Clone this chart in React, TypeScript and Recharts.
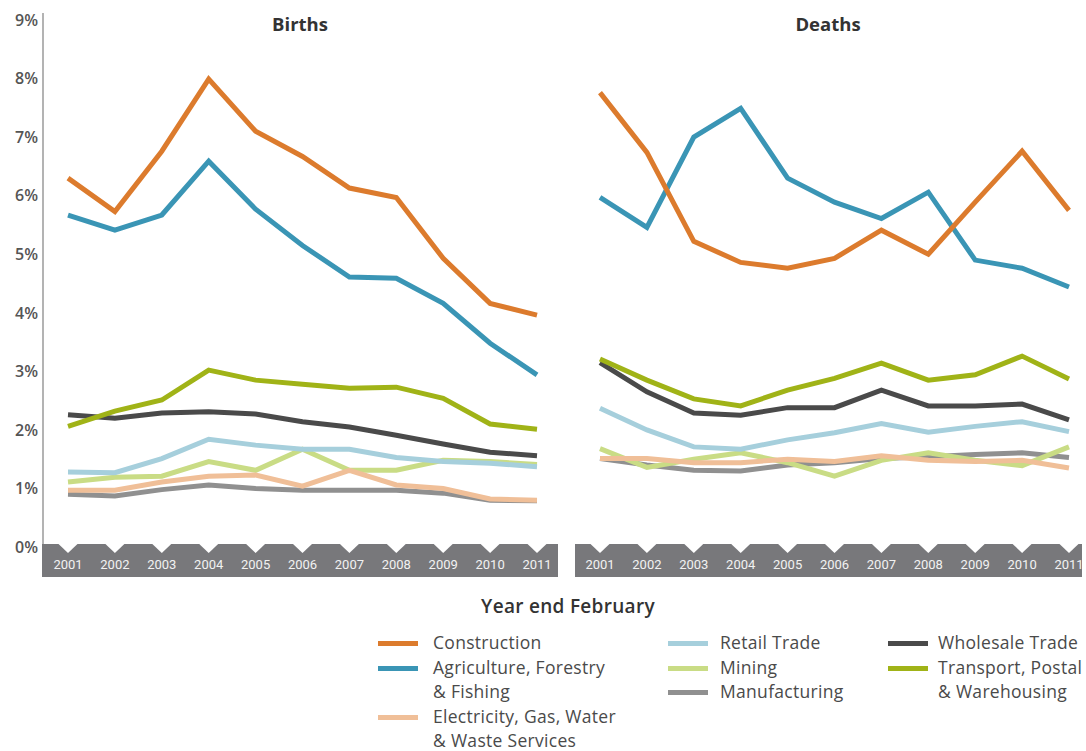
import React from 'react';
import { LineChart, Line, XAxis, YAxis } from 'recharts';

const years = ['2001', '2002', '2003', '2004', '2005', '2006', '2007', '2008', '2009', '2010', '2011'];
const yTicks = [0, 1, 2, 3, 4, 5, 6, 7, 8, 9];

const constructionBirths = [6.3, 5.73, 6.76, 7.99, 7.1, 6.67, 6.13, 5.97, 4.93, 4.16, 3.96];
const agricultureBirths = [5.67, 5.41, 5.67, 6.59, 5.77, 5.15, 4.61, 4.59, 4.16, 3.48, 2.94];
const electricityBirths = [0.97, 0.97, 1.11, 1.21, 1.23, 1.04, 1.31, 1.06, 1.0, 0.82, 0.8];
const retailBirths = [1.28, 1.27, 1.51, 1.84, 1.74, 1.67, 1.67, 1.53, 1.46, 1.43, 1.37];
const miningBirths = [1.11, 1.19, 1.21, 1.46, 1.31, 1.67, 1.31, 1.31, 1.48, 1.46, 1.41];
const manufacturingBirths = [0.9, 0.87, 0.98, 1.06, 1.0, 0.97, 0.97, 0.97, 0.92, 0.8, 0.79];
const wholesaleBirths = [2.26, 2.2, 2.29, 2.31, 2.27, 2.14, 2.05, 1.91, 1.76, 1.62, 1.56];
const transportBirths = [2.06, 2.32, 2.51, 3.02, 2.85, 2.78, 2.71, 2.73, 2.54, 2.1, 2.01];

const constructionDeaths = [7.76, 6.74, 5.22, 4.86, 4.76, 4.93, 5.41, 5.0, 5.89, 6.76, 5.75];
const agricultureDeaths = [5.97, 5.46, 7.0, 7.49, 6.3, 5.89, 5.61, 6.06, 4.9, 4.76, 4.44];
const electricityDeaths = [1.51, 1.51, 1.44, 1.44, 1.5, 1.46, 1.56, 1.48, 1.46, 1.48, 1.35];
const retailDeaths = [2.37, 2.0, 1.71, 1.67, 1.83, 1.95, 2.11, 1.96, 2.06, 2.14, 1.97];
const miningDeaths = [1.68, 1.36, 1.5, 1.61, 1.44, 1.21, 1.48, 1.61, 1.48, 1.39, 1.71];
const manufacturingDeaths = [1.51, 1.4, 1.31, 1.3, 1.4, 1.44, 1.51, 1.54, 1.58, 1.61, 1.53];
const wholesaleDeaths = [3.15, 2.65, 2.29, 2.25, 2.38, 2.38, 2.68, 2.41, 2.41, 2.44, 2.17];
const transportDeaths = [3.21, 2.85, 2.53, 2.41, 2.68, 2.88, 3.14, 2.85, 2.94, 3.26, 2.87];

type Series = { key: string; lines: string[]; color: string; births: number[]; deaths: number[] };

const construction: Series = { key: 'construction', lines: ['Construction'], color: '#dc7b2d', births: constructionBirths, deaths: constructionDeaths };
const agriculture: Series = { key: 'agriculture', lines: ['Agriculture, Forestry', '& Fishing'], color: '#3a95b5', births: agricultureBirths, deaths: agricultureDeaths };
const electricity: Series = { key: 'electricity', lines: ['Electricity, Gas, Water', '& Waste Services'], color: '#f0bf98', births: electricityBirths, deaths: electricityDeaths };
const retail: Series = { key: 'retail', lines: ['Retail Trade'], color: '#a6cfdc', births: retailBirths, deaths: retailDeaths };
const mining: Series = { key: 'mining', lines: ['Mining'], color: '#c9dc85', births: miningBirths, deaths: miningDeaths };
const manufacturing: Series = { key: 'manufacturing', lines: ['Manufacturing'], color: '#909090', births: manufacturingBirths, deaths: manufacturingDeaths };
const wholesale: Series = { key: 'wholesale', lines: ['Wholesale Trade'], color: '#4a4a4a', births: wholesaleBirths, deaths: wholesaleDeaths };
const transport: Series = { key: 'transport', lines: ['Transport, Postal', '& Warehousing'], color: '#a0b317', births: transportBirths, deaths: transportDeaths };

// draw order (later = on top)
const drawOrder: Series[] = [manufacturing, mining, retail, electricity, wholesale, transport, agriculture, construction];
const legendColumns: Series[][] = [
  [construction, agriculture, electricity],
  [retail, mining, manufacturing],
  [wholesale, transport],
];

const birthsData = years.map((year, i) => {
  const row: Record<string, number | string> = { year };
  drawOrder.forEach((s) => (row[s.key] = s.births[i]));
  return row;
});
const deathsData = years.map((year, i) => {
  const row: Record<string, number | string> = { year };
  drawOrder.forEach((s) => (row[s.key] = s.deaths[i]));
  return row;
});

const FONT = '"Open Sans", "DejaVu Sans", sans-serif';
const TOP = 13;
const PLOT_H = 534;
const AXIS_H = 34;
const DOMAIN: [number, number] = [0, 9.12];

const makeXTick = (padL: number, plotW: number) => (props: any) => {
  const { x, y, payload, index } = props;
  const top = y - 3;
  return (
    <g>
      {index === 0 && <rect x={x - padL - 1} y={top} width={plotW + 1} height={33} fill="#78787b" />}
      <polygon points={`${x - 10},${top - 0.5} ${x + 10},${top - 0.5} ${x},${top + 9}`} fill="#ffffff" />
      <text x={x} y={top + 25} textAnchor="middle" fill="#f2f2f2" fontSize={13} fontFamily="Roboto, sans-serif">
        {payload.value}
      </text>
    </g>
  );
};

const YTick = (props: any) => {
  const { x, y, payload } = props;
  return (
    <text x={x} y={y} dy="0.36em" textAnchor="end" fill="#555555" fontSize={16} fontWeight={600} fontFamily={FONT}>
      {`${payload.value}%`}
    </text>
  );
};

function Panel({ data, which, width, yAxis, padL, padR, marginRight }: any) {
  const plotW = width - (yAxis ? 43 : 0) - marginRight;
  return (
    <LineChart width={width} height={TOP + PLOT_H + AXIS_H} data={data} margin={{ top: TOP, right: marginRight, bottom: 0, left: 0 }}>
      <XAxis
        dataKey="year"
        interval={0}
        height={AXIS_H}
        padding={{ left: padL, right: padR }}
        axisLine={false}
        tickLine={false}
        tickSize={0}
        tickMargin={0}
        tick={makeXTick(padL, plotW)}
      />
      <YAxis
        hide={!yAxis}
        width={43}
        domain={DOMAIN}
        ticks={yTicks}
        allowDataOverflow
        axisLine={{ stroke: '#b3b3b3', strokeWidth: 2 }}
        tickLine={false}
        tickSize={0}
        tickMargin={5}
        tick={YTick}
      />
      {drawOrder.map((s) => (
        <Line
          key={s.key + which}
          dataKey={s.key}
          type="linear"
          stroke={s.color}
          strokeWidth={5}
          dot={false}
          activeDot={false}
          isAnimationActive={false}
        />
      ))}
    </LineChart>
  );
}

export default function App() {
  return (
    <div style={{ position: 'absolute', left: 0, top: 0, width: 1086, height: 751, background: '#fff', fontFamily: FONT, overflow: 'hidden' }}>
      <div style={{ position: 'absolute', left: 0, top: 0 }}>
        <Panel data={birthsData} which="b" width={560} yAxis padL={25} padR={21} marginRight={2} />
      </div>
      <div style={{ position: 'absolute', left: 575, top: 0 }}>
        <Panel data={deathsData} which="d" width={511} yAxis={false} padL={25} padR={13} marginRight={4} />
      </div>
      <div style={{ position: 'absolute', left: 200, width: 200, top: 11, textAlign: 'center', fontSize: 18.5, fontWeight: 700, color: '#333' }}>Births</div>
      <div style={{ position: 'absolute', left: 728, width: 200, top: 11, textAlign: 'center', fontSize: 18.5, fontWeight: 700, color: '#333' }}>Deaths</div>
      <div style={{ position: 'absolute', left: 418, width: 300, top: 593, textAlign: 'center', fontSize: 19, fontWeight: 600, letterSpacing: 0.3, color: '#333' }}>Year end February</div>
      {legendColumns.map((col, ci) => {
        const swLeft = [378, 668, 888][ci];
        const txLeft = [433, 720, 938][ci];
        return (
          <div key={ci} style={{ position: 'absolute', left: swLeft, top: 630 }}>
            {col.map((s) => (
              <div key={s.key} style={{ position: 'relative', height: s.lines.length * 24.5 }}>
                <div style={{ position: 'absolute', left: 0, top: 11, width: 40, height: 5, background: s.color }} />
                <div style={{ position: 'absolute', left: txLeft - swLeft, top: 0, whiteSpace: 'nowrap', fontSize: 17.5, letterSpacing: 0.3, lineHeight: '24.5px', color: '#4a4a4a' }}>
                  {s.lines.map((l, li) => (
                    <div key={li}>{l}</div>
                  ))}
                </div>
              </div>
            ))}
          </div>
        );
      })}
    </div>
  );
}
